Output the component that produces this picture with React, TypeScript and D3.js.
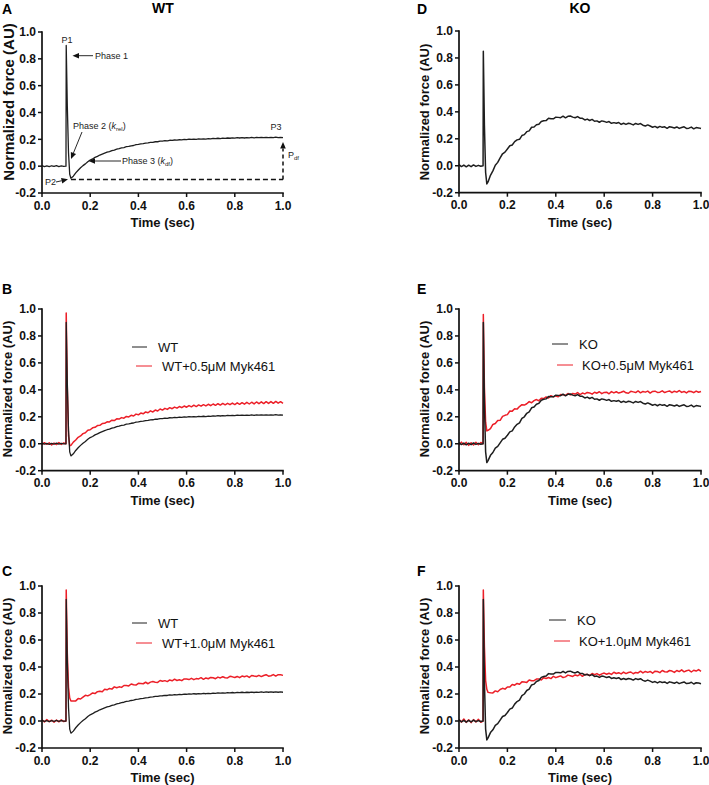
import React from "react";
import * as d3 from "d3";

// Time points (sec)
const TIME = [
  0, 0.01, 0.02, 0.03, 0.04, 0.05, 0.06, 0.07, 0.08, 0.09,
  0.0995, 0.1005, 0.105, 0.11, 0.115, 0.12,
  0.13, 0.14, 0.15, 0.16, 0.17, 0.18, 0.19, 0.2, 0.21, 0.22, 0.23, 0.24, 0.25, 0.26, 0.27, 0.28, 0.29, 0.3,
  0.31, 0.32, 0.33, 0.34, 0.35, 0.36, 0.37, 0.38, 0.39, 0.4, 0.41, 0.42, 0.43, 0.44, 0.45, 0.46, 0.47, 0.48, 0.49, 0.5,
  0.51, 0.52, 0.53, 0.54, 0.55, 0.56, 0.57, 0.58, 0.59, 0.6, 0.61, 0.62, 0.63, 0.64, 0.65, 0.66, 0.67, 0.68, 0.69, 0.7,
  0.71, 0.72, 0.73, 0.74, 0.75, 0.76, 0.77, 0.78, 0.79, 0.8, 0.81, 0.82, 0.83, 0.84, 0.85, 0.86, 0.87, 0.88, 0.89, 0.9,
  0.91, 0.92, 0.93, 0.94, 0.95, 0.96, 0.97, 0.98, 0.99, 1.0,
];

// WT (black, panels A, B, C)
const WT = [
  0.004, -0.003, 0.002, -0.004, 0.003, -0.002, 0.004, -0.003, 0.002, -0.001,
  0.0, 0.9, 0.45, 0.1, -0.06, -0.09,
  -0.075, -0.05, -0.03, -0.012, 0.004, 0.017, 0.033, 0.046, 0.054, 0.066, 0.073, 0.083, 0.09, 0.097, 0.104, 0.108, 0.116, 0.12,
  0.127, 0.13, 0.136, 0.139, 0.145, 0.147, 0.152, 0.154, 0.16, 0.162, 0.166, 0.168, 0.172, 0.173, 0.177, 0.178, 0.182, 0.182, 0.186, 0.187,
  0.19, 0.189, 0.193, 0.192, 0.195, 0.194, 0.197, 0.196, 0.199, 0.198, 0.201, 0.199, 0.202, 0.2, 0.203, 0.201, 0.204, 0.202, 0.205, 0.203,
  0.207, 0.205, 0.208, 0.206, 0.209, 0.207, 0.21, 0.208, 0.211, 0.209, 0.212, 0.21, 0.213, 0.21, 0.213, 0.211, 0.214, 0.211, 0.214, 0.212,
  0.215, 0.212, 0.215, 0.213, 0.215, 0.213, 0.216, 0.213, 0.215, 0.213,
];

// WT + 0.5 uM Myk461 (red, panel B)
const WT_MYK05 = [
  -0.006, 0.008, -0.004, 0.007, -0.009, 0.005, -0.006, 0.009, -0.005, 0.006,
  0.0, 0.97, 0.42, 0.06, -0.015, -0.012,
  0.012, 0.028, 0.048, 0.058, 0.075, 0.082, 0.1, 0.104, 0.118, 0.122, 0.135, 0.137, 0.15, 0.152, 0.163, 0.162, 0.175, 0.172,
  0.185, 0.183, 0.194, 0.19, 0.203, 0.199, 0.211, 0.206, 0.22, 0.215, 0.228, 0.222, 0.236, 0.23, 0.244, 0.236, 0.25, 0.243, 0.258, 0.25,
  0.263, 0.255, 0.268, 0.26, 0.272, 0.264, 0.276, 0.268, 0.28, 0.271, 0.283, 0.274, 0.286, 0.276, 0.288, 0.279, 0.29, 0.281, 0.293, 0.283,
  0.295, 0.285, 0.297, 0.287, 0.299, 0.289, 0.3, 0.29, 0.302, 0.291, 0.304, 0.293, 0.305, 0.294, 0.307, 0.295, 0.308, 0.296, 0.31, 0.297,
  0.311, 0.298, 0.312, 0.299, 0.313, 0.3, 0.314, 0.301, 0.312, 0.3,
];

// WT + 1.0 uM Myk461 (red, panel C)
const WT_MYK10 = [
  0.008, -0.007, 0.01, -0.005, 0.006, -0.009, 0.007, -0.006, 0.009, -0.004,
  0.0, 0.97, 0.5, 0.25, 0.17, 0.148,
  0.149, 0.149, 0.166, 0.163, 0.177, 0.19, 0.186, 0.196, 0.208, 0.203, 0.217, 0.221, 0.217, 0.235, 0.231, 0.241, 0.236, 0.253,
  0.246, 0.253, 0.249, 0.263, 0.263, 0.26, 0.274, 0.268, 0.266, 0.279, 0.278, 0.276, 0.287, 0.276, 0.288, 0.292, 0.287, 0.286, 0.3, 0.294,
  0.299, 0.292, 0.304, 0.298, 0.31, 0.3, 0.306, 0.299, 0.312, 0.311, 0.307, 0.316, 0.306, 0.314, 0.312, 0.321, 0.309, 0.319, 0.313, 0.323,
  0.32, 0.313, 0.325, 0.319, 0.328, 0.32, 0.319, 0.331, 0.327, 0.322, 0.33, 0.321, 0.333, 0.328, 0.334, 0.323, 0.337, 0.333, 0.33, 0.338,
  0.329, 0.337, 0.343, 0.332, 0.335, 0.344, 0.333, 0.343, 0.342, 0.338,
];

// KO (black, panel D)
const KO_D = [
  0.008, -0.006, 0.005, -0.008, 0.004, -0.007, 0.006, -0.005, 0.003, -0.004,
  0.0, 0.85, 0.3, -0.05, -0.135, -0.12,
  -0.071, -0.038, 0.004, 0.025, 0.059, 0.089, 0.101, 0.124, 0.148, 0.154, 0.179, 0.192, 0.196, 0.224, 0.231, 0.253, 0.259, 0.286,
  0.288, 0.304, 0.308, 0.329, 0.334, 0.335, 0.352, 0.348, 0.348, 0.36,
  0.359, 0.357, 0.368, 0.356, 0.367, 0.369, 0.361, 0.356, 0.365, 0.353,
  0.352, 0.34, 0.346, 0.336, 0.344, 0.33, 0.333, 0.323, 0.333, 0.329,
  0.322, 0.328, 0.315, 0.32, 0.315, 0.321, 0.307, 0.315, 0.307, 0.315,
  0.311, 0.303, 0.314, 0.307, 0.313, 0.301, 0.295, 0.303, 0.295, 0.286,
  0.292, 0.282, 0.292, 0.285, 0.289, 0.278, 0.29, 0.285, 0.28, 0.288,
  0.277, 0.284, 0.289, 0.277, 0.279, 0.287, 0.274, 0.283, 0.281, 0.276,
];

// KO (black, panels E, F)
const KO = [
  0.008, -0.006, 0.005, -0.008, 0.004, -0.007, 0.006, -0.005, 0.003, -0.004,
  0.0, 0.9, 0.3, -0.06, -0.14, -0.125,
  -0.086, -0.065, -0.032, -0.02, 0.007, 0.033, 0.041, 0.063, 0.088, 0.096, 0.125, 0.144, 0.155, 0.188, 0.2, 0.226, 0.236, 0.267,
  0.273, 0.293, 0.3, 0.323, 0.33, 0.333, 0.351, 0.348, 0.348, 0.36,
  0.359, 0.357, 0.368, 0.356, 0.367, 0.369, 0.361, 0.356, 0.365, 0.353,
  0.352, 0.34, 0.346, 0.336, 0.344, 0.33, 0.333, 0.323, 0.333, 0.329,
  0.322, 0.328, 0.315, 0.32, 0.315, 0.321, 0.307, 0.315, 0.307, 0.315,
  0.311, 0.303, 0.314, 0.307, 0.313, 0.301, 0.295, 0.303, 0.295, 0.286,
  0.292, 0.282, 0.292, 0.285, 0.289, 0.278, 0.29, 0.285, 0.28, 0.288,
  0.277, 0.284, 0.289, 0.277, 0.279, 0.287, 0.274, 0.283, 0.281, 0.276,
];

// KO + 0.5 uM Myk461 (red, panel E)
const KO_MYK05 = [
  -0.01, 0.012, -0.008, 0.01, -0.012, 0.008, -0.009, 0.011, -0.007, 0.009,
  0.0, 0.96, 0.42, 0.16, 0.095, 0.1,
  0.113, 0.143, 0.15, 0.172, 0.174, 0.203, 0.211, 0.216, 0.243, 0.242, 0.26, 0.257, 0.276, 0.29, 0.287, 0.297, 0.313, 0.304,
  0.32, 0.328, 0.319, 0.337, 0.335, 0.347, 0.34, 0.357, 0.348, 0.355, 0.349, 0.366, 0.364, 0.359, 0.373, 0.362, 0.373, 0.369, 0.38, 0.365,
  0.376, 0.37, 0.381, 0.377, 0.368, 0.382, 0.375, 0.386, 0.372, 0.381, 0.383, 0.371, 0.387, 0.377, 0.386, 0.376, 0.382, 0.39, 0.378, 0.375,
  0.389, 0.385, 0.38, 0.392, 0.378, 0.388, 0.383, 0.391, 0.376, 0.388, 0.39, 0.381, 0.383, 0.393, 0.38, 0.387, 0.392, 0.379, 0.39, 0.383,
  0.395, 0.381, 0.388, 0.377, 0.39, 0.388, 0.379, 0.391, 0.382, 0.388,
];

// KO + 1.0 uM Myk461 (red, panel F)
const KO_MYK10 = [
  0.012, -0.008, 0.015, -0.01, 0.009, -0.012, 0.01, -0.007, 0.013, -0.009,
  0.0, 0.97, 0.55, 0.3, 0.235, 0.212,
  0.209, 0.208, 0.223, 0.217, 0.233, 0.242, 0.236, 0.252, 0.251, 0.271, 0.265, 0.278, 0.272, 0.29, 0.289, 0.286, 0.304, 0.298,
  0.299, 0.311, 0.312, 0.304, 0.321, 0.315, 0.322, 0.314, 0.331, 0.321, 0.328, 0.334, 0.322, 0.327, 0.34, 0.335, 0.33, 0.341, 0.335, 0.346,
  0.331, 0.345, 0.344, 0.337, 0.352, 0.343, 0.351, 0.339, 0.349, 0.355, 0.346, 0.354, 0.345, 0.361, 0.352, 0.358, 0.349, 0.362, 0.351, 0.359,
  0.363, 0.35, 0.36, 0.356, 0.369, 0.356, 0.367, 0.36, 0.367, 0.354, 0.369, 0.367, 0.358, 0.374, 0.365, 0.363, 0.374, 0.37, 0.36, 0.374,
  0.366, 0.379, 0.364, 0.372, 0.377, 0.363, 0.376, 0.37, 0.381, 0.368,
];

const X_TICKS = [0, 0.2, 0.4, 0.6, 0.8, 1.0];
const Y_TICKS = [-0.2, 0, 0.2, 0.4, 0.6, 0.8, 1.0];

const BLACK = "#1e1e1e";
const RED = "#ec1f28";
const FONT = "'Liberation Sans', Arial, Helvetica, sans-serif";

type Series = { values: number[]; color: string; width?: number };
type LegendItem = { label: string; color: string; x1: number; x2: number; y: number; tx: number };

type PanelProps = {
  x0: number;
  x1: number;
  yTop: number;
  yBot: number;
  series: Series[];
  letter: string;
  lx: number;
  ly: number;
  ylx: number;
  yly: number;
  ylSize: number;
  legend?: LegendItem[];
  children?: React.ReactNode;
};

function Panel(p: PanelProps) {
  const x = d3.scaleLinear().domain([0, 1]).range([p.x0, p.x1]);
  const y = d3.scaleLinear().domain([-0.2, 1]).range([p.yBot, p.yTop]);
  const line = d3
    .line<number>()
    .x((_, i) => x(TIME[i]))
    .y((d) => y(d));
  return (
    <g>
      <text x={p.lx} y={p.ly} fontFamily={FONT} fontWeight="bold" fontSize={14}>
        {p.letter}
      </text>
      {p.series.map((s, i) => (
        <path key={i} d={line(s.values) || ""} fill="none" stroke={s.color} strokeWidth={s.width ?? 1.5} strokeLinejoin="round" />
      ))}
      {/* axes */}
      <line x1={p.x0} x2={p.x0} y1={p.yTop - 0.8} y2={p.yBot + 0.8} stroke="#111" strokeWidth={1.7} />
      <line x1={p.x0} x2={p.x1 + 0.8} y1={p.yBot} y2={p.yBot} stroke="#111" strokeWidth={1.7} />
      {Y_TICKS.map((t) => (
        <g key={"y" + t}>
          <line x1={p.x0 - 4} x2={p.x0} y1={y(t)} y2={y(t)} stroke="#111" strokeWidth={1.5} />
          <text x={p.x0 - 6} y={y(t) + 4.3} textAnchor="end" fontFamily={FONT} fontWeight="bold" fontSize={12} fill="#111">
            {t.toFixed(1)}
          </text>
        </g>
      ))}
      {X_TICKS.map((t) => (
        <g key={"x" + t}>
          <line x1={x(t)} x2={x(t)} y1={p.yBot} y2={p.yBot + 4} stroke="#111" strokeWidth={1.5} />
          <text x={x(t)} y={p.yBot + 16.5} textAnchor="middle" fontFamily={FONT} fontWeight="bold" fontSize={12} fill="#111">
            {t.toFixed(1)}
          </text>
        </g>
      ))}
      <text x={(p.x0 + p.x1) / 2} y={p.yBot + 34} textAnchor="middle" fontFamily={FONT} fontWeight="bold" fontSize={13} fill="#111">
        Time (sec)
      </text>
      <text
        transform={`translate(${p.ylx},${p.yly}) rotate(-90)`}
        textAnchor="middle"
        dominantBaseline="central"
        fontFamily={FONT}
        fontWeight="bold"
        fontSize={p.ylSize}
        fill="#111"
      >
        Normalized force (AU)
      </text>
      {p.legend &&
        p.legend.map((l, i) => (
          <g key={"l" + i}>
            <line x1={l.x1} x2={l.x2} y1={l.y} y2={l.y} stroke={l.color} strokeWidth={1} />
            <text x={l.tx} y={l.y + 4.6} fontFamily={FONT} fontSize={13} fill="#111">
              {l.label}
            </text>
          </g>
        ))}
      {p.children}
    </g>
  );
}

function Arrow({ x1, y1, x2, y2, dashed }: { x1: number; y1: number; x2: number; y2: number; dashed?: boolean }) {
  // arrow from (x1,y1) to tip (x2,y2)
  const ang = Math.atan2(y2 - y1, x2 - x1);
  const L = 6.5;
  const W = 2.8;
  const bx = x2 - L * Math.cos(ang);
  const by = y2 - L * Math.sin(ang);
  const px = -Math.sin(ang) * W;
  const py = Math.cos(ang) * W;
  return (
    <g>
      <line x1={x1} y1={y1} x2={bx} y2={by} stroke="#111" strokeWidth={dashed ? 1.5 : 0.9} strokeDasharray={dashed ? "4 3" : undefined} />
      <polygon points={`${x2},${y2} ${bx + px},${by + py} ${bx - px},${by - py}`} fill="#111" />
    </g>
  );
}

export default function App() {
  // panel A annotation helpers (scales for A)
  const ax = d3.scaleLinear().domain([0, 1]).range([42, 283]);
  const ay = d3.scaleLinear().domain([-0.2, 1]).range([193, 32]);
  const small = { fontFamily: FONT, fontSize: 9, fill: "#222" } as const;

  return (
    <svg width={709} height={785} style={{ position: "absolute", left: 0, top: 0, background: "#fff" }}>
      <text x={163} y={12.5} textAnchor="middle" fontFamily={FONT} fontWeight="bold" fontSize={14}>
        WT
      </text>
      <text x={580} y={12.5} textAnchor="middle" fontFamily={FONT} fontWeight="bold" fontSize={14}>
        KO
      </text>

      <Panel x0={42} x1={283} yTop={32} yBot={193} series={[{ values: WT, color: BLACK, width: 1.3 }]} letter="A" lx={2} ly={14} ylx={8.5} yly={102} ylSize={15}>
        {/* dashed baseline at P2 */}
        <line x1={ax(0.12)} x2={ax(1.0)} y1={ay(-0.1)} y2={ay(-0.1)} stroke="#111" strokeWidth={1.5} strokeDasharray="5 3" />
        <Arrow x1={ax(1.0)} y1={ay(-0.1)} x2={ax(1.0)} y2={ay(0.18)} dashed />
        <text x={67} y={43} textAnchor="middle" {...small}>P1</text>
        <Arrow x1={93} y1={55.7} x2={72.5} y2={55.7} />
        <text x={95} y={59} {...small}>Phase 1</text>
        <text x={73} y={129} {...small}>
          Phase 2 (<tspan fontStyle="italic">k</tspan>
          <tspan fontSize={6} dy={2}>rel</tspan>
          <tspan dy={-2}>)</tspan>
        </text>
        <Arrow x1={82} y1={132} x2={71} y2={159} />
        <Arrow x1={121} y1={161} x2={88.5} y2={161} />
        <text x={122} y={164.3} {...small}>
          Phase 3 (<tspan fontStyle="italic">k</tspan>
          <tspan fontSize={6} dy={2}>df</tspan>
          <tspan dy={-2}>)</tspan>
        </text>
        <text x={45} y={185} {...small}>P2</text>
        <Arrow x1={56} y1={182} x2={68} y2={179.3} />
        <text x={276} y={130} textAnchor="middle" {...small}>P3</text>
        <text x={288} y={158} {...small}>
          P<tspan fontSize={6} dy={2}>df</tspan>
        </text>
      </Panel>

      <Panel
        x0={42}
        x1={283}
        yTop={309}
        yBot={470.7}
        series={[
          { values: WT_MYK05, color: RED },
          { values: WT, color: BLACK, width: 1.3 },
        ]}
        letter="B"
        lx={2}
        ly={294}
        ylx={7.5}
        yly={389}
        ylSize={13}
        legend={[
          { label: "WT", color: BLACK, x1: 132, x2: 147, y: 347, tx: 158 },
          { label: "WT+0.5μM Myk461", color: RED, x1: 136, x2: 152, y: 366, tx: 162 },
        ]}
      />

      <Panel
        x0={42}
        x1={283}
        yTop={586}
        yBot={748}
        series={[
          { values: WT_MYK10, color: RED },
          { values: WT, color: BLACK, width: 1.3 },
        ]}
        letter="C"
        lx={2}
        ly={576}
        ylx={7.5}
        yly={666}
        ylSize={13}
        legend={[
          { label: "WT", color: BLACK, x1: 132, x2: 147, y: 623, tx: 158 },
          { label: "WT+1.0μM Myk461", color: RED, x1: 136, x2: 152, y: 643, tx: 162 },
        ]}
      />

      <Panel x0={459} x1={701} yTop={31} yBot={192.7} series={[{ values: KO_D, color: BLACK }]} letter="D" lx={417} ly={14} ylx={424} yly={112} ylSize={13} />

      <Panel
        x0={459}
        x1={701}
        yTop={309}
        yBot={470.7}
        series={[
          { values: KO_MYK05, color: RED },
          { values: KO, color: BLACK },
        ]}
        letter="E"
        lx={417}
        ly={294}
        ylx={424}
        yly={389}
        ylSize={13}
        legend={[
          { label: "KO", color: BLACK, x1: 552, x2: 568, y: 344, tx: 579 },
          { label: "KO+0.5μM Myk461", color: RED, x1: 557, x2: 573, y: 365, tx: 582 },
        ]}
      />

      <Panel
        x0={459}
        x1={701}
        yTop={586}
        yBot={748}
        series={[
          { values: KO_MYK10, color: RED },
          { values: KO, color: BLACK },
        ]}
        letter="F"
        lx={417}
        ly={576}
        ylx={424}
        yly={666}
        ylSize={13}
        legend={[
          { label: "KO", color: BLACK, x1: 549, x2: 566, y: 620, tx: 577 },
          { label: "KO+1.0μM Myk461", color: RED, x1: 554, x2: 570, y: 641, tx: 579 },
        ]}
      />
    </svg>
  );
}
